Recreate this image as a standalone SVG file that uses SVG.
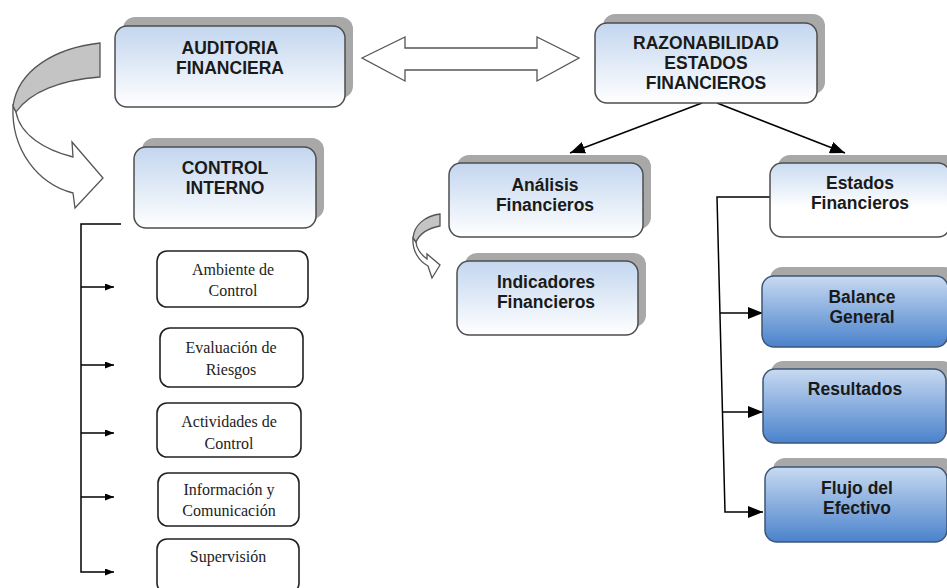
<svg xmlns="http://www.w3.org/2000/svg" width="947" height="588" viewBox="0 0 947 588">
<defs>
<linearGradient id="gLight" x1="0" y1="0" x2="0" y2="1">
<stop offset="0" stop-color="#c3d6ef"/>
<stop offset="1" stop-color="#ffffff"/>
</linearGradient>
<linearGradient id="gLight2" x1="0" y1="0" x2="0" y2="1">
<stop offset="0" stop-color="#c9dbf1"/>
<stop offset="0.6" stop-color="#ffffff"/>
<stop offset="1" stop-color="#ffffff"/>
</linearGradient>
<linearGradient id="gBlue" x1="0" y1="0" x2="0" y2="1">
<stop offset="0" stop-color="#c8daf1"/>
<stop offset="1" stop-color="#4a82cc"/>
</linearGradient>
<marker id="mBig" viewBox="0 0 15 12" refX="15" refY="6" markerWidth="15" markerHeight="12" markerUnits="userSpaceOnUse" orient="auto">
<path d="M0,0 L15,6 L0,12 Z" fill="#000"/>
</marker>
<marker id="mSmall" viewBox="0 0 9 7" refX="9" refY="3.5" markerWidth="9" markerHeight="7" markerUnits="userSpaceOnUse" orient="auto">
<path d="M0,0 L9,3.5 L0,7 Z" fill="#000"/>
</marker>
</defs>
<style>
.shadow{fill:#a8a8a8;}
.main{fill:url(#gLight);stroke:#4d4d4d;stroke-width:1.5;}
.est{fill:url(#gLight2);stroke:#4d4d4d;stroke-width:1.5;}
.blue{fill:url(#gBlue);stroke:#3c5676;stroke-width:1.5;}
.item{fill:#ffffff;stroke:#222;stroke-width:1.6;}
.t{font-family:"Liberation Sans",Arial,sans-serif;font-weight:bold;font-size:17.5px;fill:#1a1a1a;text-anchor:middle;}
.s{font-family:"Liberation Serif","Times New Roman",serif;font-size:16px;fill:#222;text-anchor:middle;}
.ln{fill:none;stroke:#000;stroke-width:1.5;}
.blk{fill:#fff;stroke:#555;stroke-width:1.3;}
.blkg{fill:#c4c4c4;stroke:#555;stroke-width:1.3;}
</style>
<rect width="947" height="588" fill="#ffffff"/>

<g id="connectors">
<path class="blk" d="M362,58 L405,37 L405,48 L537,48 L537,37 L579,58 L537,81 L537,70 L405,70 L405,81 Z"/>
<line class="ln" x1="702" y1="103" x2="570" y2="153" marker-end="url(#mBig)"/>
<line class="ln" x1="717" y1="103" x2="845" y2="153" marker-end="url(#mBig)"/>
<polyline class="ln" points="770,197 717,197 725,512 763,512" marker-end="url(#mBig)"/>
<line class="ln" x1="720" y1="313" x2="763" y2="313" marker-end="url(#mBig)"/>
<line class="ln" x1="723" y1="412" x2="763" y2="412" marker-end="url(#mBig)"/>
<polyline class="ln" points="121,224 81,224 81,572 114,572" marker-end="url(#mSmall)"/>
<line class="ln" x1="81" y1="287" x2="114" y2="287" marker-end="url(#mSmall)"/>
<line class="ln" x1="81" y1="365" x2="114" y2="365" marker-end="url(#mSmall)"/>
<line class="ln" x1="81" y1="433" x2="114" y2="433" marker-end="url(#mSmall)"/>
<line class="ln" x1="81" y1="497" x2="114" y2="497" marker-end="url(#mSmall)"/>
<path class="blk" d="M13,106 C11,150 38,184 73,193 L75,208 L103,178 L72,142 L73,157 C45,150 20,135 16,112 Z"/>
<path class="blkg" d="M100,43 C55,48 18,70 13,106 L16,112 C30,92 60,80 100,77 Z"/>
<path class="blk" d="M413,238 C412,251 419,261 428,266 L432,278 L440,265 L427,254 L427,259 C420,254 416,247 416,242 Z"/>
<path class="blkg" d="M440,214 C425,216 414,225 413,238 L416,242 C420,233 429,228 440,226 Z"/>
</g>

<g id="auditoria">
<rect class="shadow" x="123" y="17" width="230" height="81" rx="12"/>
<rect class="main" x="115" y="26" width="230" height="81" rx="12"/>
<text class="t" x="230" y="54">AUDITORIA</text>
<text class="t" x="230" y="74">FINANCIERA</text>
</g>
<g id="control-interno">
<rect class="shadow" x="142" y="138" width="182" height="81" rx="12"/>
<rect class="main" x="134" y="147" width="182" height="81" rx="12"/>
<text class="t" x="225" y="174">CONTROL</text>
<text class="t" x="225" y="194">INTERNO</text>
</g>
<g id="razonabilidad">
<rect class="shadow" x="603" y="14" width="222" height="80" rx="12"/>
<rect class="main" x="595" y="23" width="222" height="80" rx="12"/>
<text class="t" x="706" y="49">RAZONABILIDAD</text>
<text class="t" x="706" y="69">ESTADOS</text>
<text class="t" x="706" y="89">FINANCIEROS</text>
</g>
<g id="analisis">
<rect class="shadow" x="457" y="155" width="194" height="74" rx="12"/>
<rect class="main" x="449" y="163" width="194" height="74" rx="12"/>
<text class="t" x="545" y="191">Análisis</text>
<text class="t" x="545" y="211">Financieros</text>
</g>
<g id="indicadores">
<rect class="shadow" x="465" y="253" width="181" height="74" rx="12"/>
<rect class="main" x="457" y="261" width="181" height="74" rx="12"/>
<text class="t" x="546" y="288">Indicadores</text>
<text class="t" x="546" y="308">Financieros</text>
</g>
<g id="estados">
<rect class="shadow" x="778" y="155" width="180" height="74" rx="12"/>
<rect class="est" x="770" y="163" width="180" height="74" rx="12"/>
<text class="t" x="860" y="189">Estados</text>
<text class="t" x="860" y="209">Financieros</text>
</g>
<g id="balance">
<rect class="shadow" x="770" y="267" width="186" height="71" rx="12"/>
<rect class="blue" x="762" y="276" width="186" height="71" rx="12"/>
<text class="t" x="862" y="303">Balance</text>
<text class="t" x="862" y="323">General</text>
</g>
<g id="resultados">
<rect class="shadow" x="771" y="361" width="183" height="74" rx="12"/>
<rect class="blue" x="763" y="369" width="183" height="74" rx="12"/>
<text class="t" x="855" y="395">Resultados</text>
</g>
<g id="flujo">
<rect class="shadow" x="773" y="458" width="182" height="75" rx="12"/>
<rect class="blue" x="765" y="467" width="182" height="75" rx="12"/>
<text class="t" x="857" y="494">Flujo del</text>
<text class="t" x="857" y="514">Efectivo</text>
</g>
<g id="ambiente">
<rect class="item" x="157" y="251" width="151" height="56" rx="10"/>
<text class="s" x="233" y="275">Ambiente de</text>
<text class="s" x="233" y="296">Control</text>
</g>
<g id="evaluacion">
<rect class="item" x="160" y="328" width="143" height="59" rx="10"/>
<text class="s" x="231" y="353">Evaluación de</text>
<text class="s" x="231" y="375">Riesgos</text>
</g>
<g id="actividades">
<rect class="item" x="157" y="403" width="144" height="54" rx="10"/>
<text class="s" x="229" y="427">Actividades de</text>
<text class="s" x="229" y="449">Control</text>
</g>
<g id="informacion">
<rect class="item" x="158" y="473" width="141" height="53" rx="10"/>
<text class="s" x="229" y="495">Información y</text>
<text class="s" x="229" y="516">Comunicación</text>
</g>
<g id="supervision">
<rect class="item" x="157" y="539" width="142" height="54" rx="10"/>
<text class="s" x="228" y="562">Supervisión</text>
</g>
</svg>
